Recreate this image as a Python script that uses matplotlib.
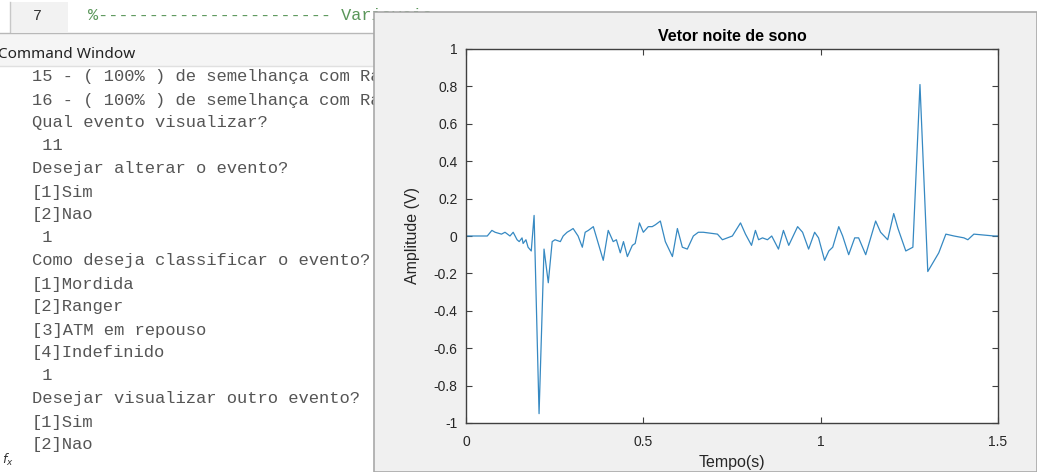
import matplotlib.pyplot as plt
from matplotlib.patches import Rectangle

# signal samples: time (s) and amplitude (V)
tempo = [0, 0.06, 0.073, 0.082, 0.10, 0.11, 0.124, 0.133, 0.144, 0.15,
         0.158, 0.161, 0.169, 0.175, 0.184, 0.192, 0.206, 0.220, 0.232, 0.243,
         0.251, 0.266, 0.274, 0.285, 0.294, 0.302, 0.316, 0.328, 0.336, 0.345,
         0.359, 0.387, 0.401, 0.415, 0.424, 0.435, 0.444, 0.455, 0.469, 0.477,
         0.489, 0.500, 0.514, 0.525, 0.534, 0.548, 0.562, 0.582, 0.596, 0.610,
         0.624, 0.641, 0.655, 0.669, 0.709, 0.723, 0.751, 0.774, 0.788, 0.805,
         0.816, 0.825, 0.836, 0.850, 0.862, 0.881, 0.895, 0.910, 0.935, 0.949,
         0.966, 0.983, 0.994, 1.011, 1.023, 1.034, 1.051, 1.062, 1.079, 1.096,
         1.107, 1.127, 1.155, 1.169, 1.189, 1.206, 1.218, 1.240, 1.260, 1.280,
         1.302, 1.333, 1.353, 1.376, 1.404, 1.415, 1.432, 1.489, 1.5]
amplitude = [0, 0, 0.03, 0.02, 0.01, 0.02, 0, 0.02, -0.02, -0.03,
             -0.01, -0.04, -0.02, -0.06, -0.08, 0.11, -0.95, -0.07, -0.25, -0.03,
             -0.02, -0.03, 0.0, 0.02, 0.03, 0.04, 0.0, -0.06, 0.02, 0.03,
             0.05, -0.13, 0.03, -0.03, -0.02, -0.09, -0.03, -0.11, -0.05, -0.04,
             0.07, 0.02, 0.05, 0.05, 0.06, 0.08, -0.03, -0.11, 0.04, -0.06,
             -0.07, 0.0, 0.02, 0.02, 0.01, -0.02, 0.0, 0.07, 0.01, -0.05,
             0.03, -0.02, -0.01, -0.02, 0.0, -0.07, 0.03, -0.05, 0.05, 0.02,
             -0.07, 0.02, -0.01, -0.13, -0.08, -0.06, 0.05, 0.0, -0.10, -0.01,
             -0.01, -0.10, 0.08, 0.02, -0.02, 0.12, 0.04, -0.08, -0.06, 0.81,
             -0.19, -0.09, 0.01, 0.0, -0.01, -0.02, 0.01, 0.0, 0.0]

xticks = [0, 0.5, 1, 1.5]
xticklabels = ['0', '0.5', '1', '1.5']
yticks = [-1, -0.8, -0.6, -0.4, -0.2, 0, 0.2, 0.4, 0.6, 0.8, 1]
yticklabels = ['-1', '-0.8', '-0.6', '-0.4', '-0.2', '0', '0.2', '0.4', '0.6', '0.8', '1']

console = [
    "15 - ( 100% ) de semelhança com Ranger",
    "16 - ( 100% ) de semelhança com Ranger",
    "Qual evento visualizar?",
    " 11",
    "Desejar alterar o evento?",
    "[1]Sim",
    "[2]Nao",
    " 1",
    "Como deseja classificar o evento?",
    "[1]Mordida",
    "[2]Ranger",
    "[3]ATM em repouso",
    "[4]Indefinido",
    " 1",
    "Desejar visualizar outro evento?",
    "[1]Sim",
    "[2]Nao",
]

W, H = 1037, 472
fig = plt.figure(figsize=(W / 100, H / 100), dpi=100)
fig.patch.set_facecolor('white')

# screen background drawn in pixel units
bg = fig.add_axes([0, 0, 1, 1])
bg.set_xlim(0, W)
bg.set_ylim(H, 0)
bg.axis('off')

# editor strip
bg.add_patch(Rectangle((10, 2), 58, 30, fc='#f2f2f2', ec='none', zorder=1))
bg.plot([10, 10], [2, 32], color='#c8c8c8', lw=1, zorder=2)
bg.plot([0, W], [33, 33], color='#b8b8b8', lw=1, zorder=2)
bg.text(33, 16, '7', family='Liberation Mono', fontsize=11, color='#333333',
        va='center', zorder=3)
bg.text(88, 16, '%' + '-' * 23 + ' Variaveis', family='Liberation Mono',
        fontsize=12.2, color='#5a965a', va='center', zorder=3)

# command window title bar
bg.add_patch(Rectangle((0, 34), W, 32, fc='#f5f5f5', ec='none', zorder=1))
bg.text(-2, 54, 'Command Window', family='Noto Sans', fontsize=11,
        color='#222222', va='center', zorder=3)
bg.plot([0, W], [66, 66], color='#e0e0e0', lw=1, zorder=2)

for i, line in enumerate(console):
    bg.text(32, 77 + 23 * i, line, family='Liberation Mono', fontsize=12.3,
            color='#555555', va='center', zorder=3)
bg.text(2, 460, r'$f_x$', fontsize=9, color='#333333', va='center', zorder=3)

# figure window panel
bg.add_patch(Rectangle((374, 12), W - 374, H - 12, fc='#f0f0f0', ec='#a8a8a8',
                       lw=1.2, zorder=5))

ax = fig.add_axes([466 / W, 1 - 423 / H, 532 / W, 374 / H])
ax.set_facecolor('white')
ax.plot(tempo, amplitude, color='#3689c2', lw=0.9)
ax.set_xlim(0, 1.5)
ax.set_ylim(-1, 1)
ax.set_xticks(xticks)
ax.set_xticklabels(xticklabels)
ax.set_yticks(yticks)
ax.set_yticklabels(yticklabels)
for s in ax.spines.values():
    s.set_color('#404040')
    s.set_linewidth(1.0)
ax.tick_params(direction='in', length=4, width=0.8, color='#404040',
               top=True, right=True, labelsize=10, labelcolor='#262626')
ax.tick_params(axis='y', pad=6)
ax.tick_params(axis='x', pad=9)
for lab in ax.get_xticklabels() + ax.get_yticklabels():
    lab.set_family('Liberation Sans')

ax.set_title('Vetor noite de sono', family='Liberation Sans', fontsize=11.5,
             fontweight='bold', color='black', pad=6)
ax.set_xlabel('Tempo(s)', family='Liberation Sans', fontsize=11.5,
              color='#262626', va='center')
ax.xaxis.set_label_coords(0.5, -(463 - 423) / 374)
ax.set_ylabel('Amplitude (V)', family='Liberation Sans', fontsize=11.5,
              color='#262626', va='center')
ax.yaxis.set_label_coords(-(466 - 413) / 532, 0.5)

fig.savefig('out.png', dpi=100)
